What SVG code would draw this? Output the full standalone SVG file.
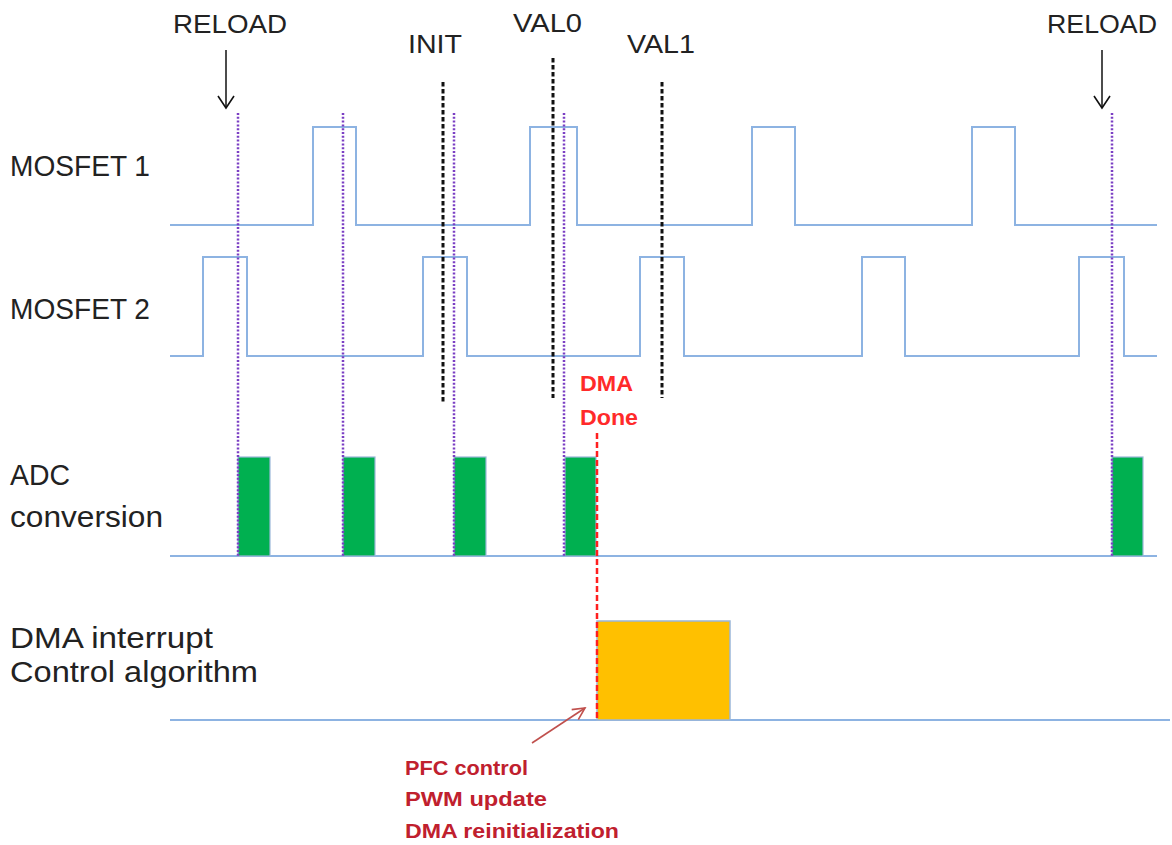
<svg xmlns="http://www.w3.org/2000/svg" width="1172" height="845" viewBox="0 0 1172 845">
  <style>
    .lbl { font-family: "Liberation Sans", Arial, sans-serif; font-size: 29px; fill: #222; }
    .mark { font-family: "Liberation Sans", Arial, sans-serif; font-size: 26px; fill: #222; }
    .wave { fill: none; stroke: #8db3e2; stroke-width: 2; }
    .base { stroke: #8db3e2; stroke-width: 2; }
    .adc { fill: #00b050; stroke: #9bb7d9; stroke-width: 1.2; }
    .ctrl { fill: #ffc000; stroke: #9bb7d9; stroke-width: 1.5; }
    .sample { stroke: #7b3fc4; stroke-width: 2.5; stroke-dasharray: 2 1.8; }
    .event { stroke: #111; stroke-width: 3; stroke-dasharray: 4.5 2.5; }
    .done { stroke: #ff1f1f; stroke-width: 2.5; stroke-dasharray: 6 3; }
    .redlbl { font-family: "Liberation Sans", Arial, sans-serif; font-size: 22px; font-weight: bold; fill: #ff2a2a; }
    .note { font-family: "Liberation Sans", Arial, sans-serif; font-size: 21px; font-weight: bold; fill: #c0202e; }
  </style>
  <defs>
    <!-- open V arrowheads, drawn pointing along +x so orient="auto" turns them with the line -->
    <marker id="openHead" viewBox="0 0 20 20" refX="18" refY="10" markerWidth="20" markerHeight="20" markerUnits="userSpaceOnUse" orient="auto">
      <path d="M6,2 L18,10 L6,18" fill="none" stroke="#111" stroke-width="1.6"/>
    </marker>
    <marker id="redHead" viewBox="0 0 16 16" refX="14" refY="8" markerWidth="16" markerHeight="16" markerUnits="userSpaceOnUse" orient="auto">
      <path d="M2,2 L14,8 L2,14" fill="none" stroke="#c0504d" stroke-width="1.6"/>
    </marker>
  </defs>
  <rect width="1172" height="845" fill="#ffffff"/>

  <!-- signal labels -->
  <g id="labels">
    <text class="lbl" x="10" y="176" textLength="140" lengthAdjust="spacingAndGlyphs">MOSFET 1</text>
    <text class="lbl" x="10" y="319" textLength="140" lengthAdjust="spacingAndGlyphs">MOSFET 2</text>
    <text class="lbl" x="10" y="485" textLength="60" lengthAdjust="spacingAndGlyphs">ADC</text>
    <text class="lbl" x="10" y="527" textLength="153" lengthAdjust="spacingAndGlyphs">conversion</text>
    <text class="lbl" x="10" y="648" textLength="203" lengthAdjust="spacingAndGlyphs">DMA interrupt</text>
    <text class="lbl" x="10" y="682" textLength="248" lengthAdjust="spacingAndGlyphs">Control algorithm</text>
  </g>

  <!-- event markers -->
  <g id="markers">
    <text class="mark" x="173" y="33" textLength="114" lengthAdjust="spacingAndGlyphs">RELOAD</text>
    <text class="mark" x="408" y="53" textLength="54" lengthAdjust="spacingAndGlyphs">INIT</text>
    <text class="mark" x="513" y="32" textLength="69" lengthAdjust="spacingAndGlyphs">VAL0</text>
    <text class="mark" x="627" y="53" textLength="68" lengthAdjust="spacingAndGlyphs">VAL1</text>
    <text class="mark" x="1047" y="33" textLength="110" lengthAdjust="spacingAndGlyphs">RELOAD</text>
  </g>

  <!-- MOSFET gate waveforms -->
  <g id="mosfet1">
    <path class="wave" d="M170,225 H313 V127 H356 V225 H530 V127 H577 V225 H752 V127 H795 V225 H972 V127 H1015 V225 H1157"/>
  </g>
  <g id="mosfet2">
    <path class="wave" d="M170,356 H203 V257 H247 V356 H423 V257 H467 V356 H640 V257 H684 V356 H862 V257 H905 V356 H1079 V257 H1124 V356 H1157"/>
  </g>

  <!-- ADC conversions -->
  <g id="adc">
    <line class="base" x1="170" y1="556" x2="1157" y2="556"/>
    <rect class="adc" x="238" y="457" width="32" height="99"/>
    <rect class="adc" x="343" y="457" width="32" height="99"/>
    <rect class="adc" x="454" y="457" width="32" height="99"/>
    <rect class="adc" x="565" y="457" width="31" height="99"/>
    <rect class="adc" x="1112" y="457" width="31" height="99"/>
  </g>

  <!-- DMA interrupt / control algorithm -->
  <g id="dma">
    <line class="base" x1="170" y1="720" x2="1170" y2="720"/>
    <rect class="ctrl" x="597" y="621" width="133" height="99"/>
  </g>

  <!-- guide lines and arrows -->
  <g id="connectors">
    <line class="sample" x1="238" y1="113" x2="238" y2="556"/>
    <line class="sample" x1="343" y1="113" x2="343" y2="556"/>
    <line class="sample" x1="454" y1="113" x2="454" y2="556"/>
    <line class="sample" x1="564" y1="113" x2="564" y2="556"/>
    <line class="sample" x1="1112" y1="113" x2="1112" y2="556"/>

    <line class="event" x1="443" y1="82" x2="443" y2="404"/>
    <line class="event" x1="553" y1="58" x2="553" y2="398"/>
    <line class="event" x1="662" y1="82" x2="662" y2="398"/>

    <line class="done" x1="597" y1="433" x2="597" y2="721"/>

    <line x1="226" y1="50" x2="226" y2="108" stroke="#111" stroke-width="1.5" marker-end="url(#openHead)"/>
    <line x1="1102" y1="50" x2="1102" y2="108" stroke="#111" stroke-width="1.5" marker-end="url(#openHead)"/>

    <line x1="532" y1="743" x2="585" y2="708" stroke="#c0504d" stroke-width="1.6" marker-end="url(#redHead)"/>
  </g>

  <!-- annotations -->
  <g id="dma-done">
    <text class="redlbl" x="580" y="391" textLength="53" lengthAdjust="spacingAndGlyphs">DMA</text>
    <text class="redlbl" x="580" y="425" textLength="58" lengthAdjust="spacingAndGlyphs">Done</text>
  </g>
  <g id="control-note">
    <text class="note" x="405" y="775" textLength="123" lengthAdjust="spacingAndGlyphs">PFC control</text>
    <text class="note" x="405" y="806" textLength="142" lengthAdjust="spacingAndGlyphs">PWM update</text>
    <text class="note" x="405" y="838" textLength="214" lengthAdjust="spacingAndGlyphs">DMA reinitialization</text>
  </g>
</svg>
